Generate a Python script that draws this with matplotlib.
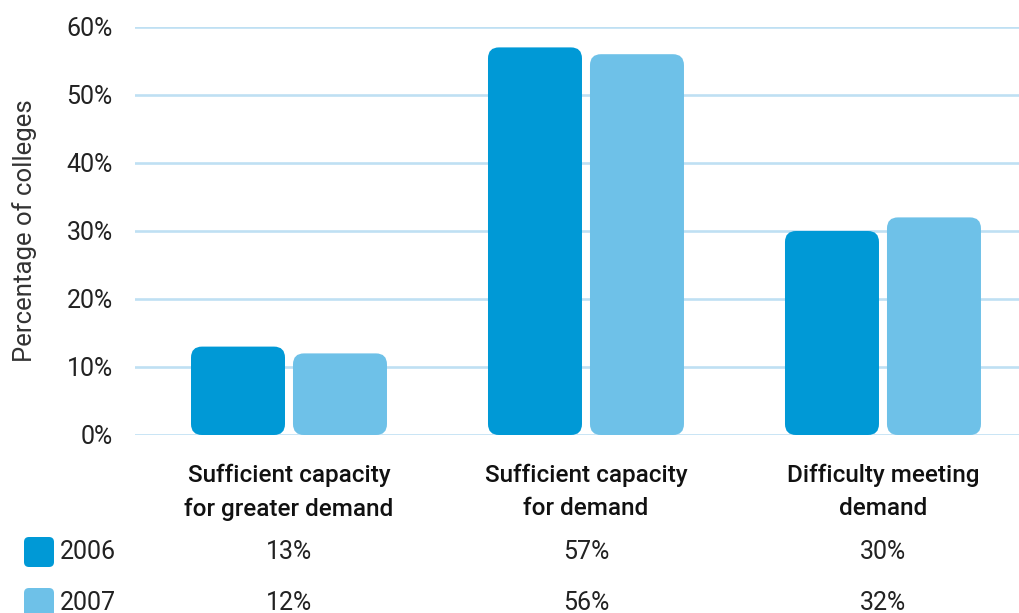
import matplotlib
matplotlib.use("Agg")
import matplotlib.pyplot as plt
from matplotlib.patches import FancyBboxPatch
import matplotlib.transforms as mtransforms

categories = ["Sufficient capacity\nfor greater demand",
              "Sufficient capacity\nfor demand",
              "Difficulty meeting\ndemand"]
series_names = ["2006", "2007"]
values_2006 = [13, 57, 30]
values_2007 = [12, 56, 32]
y_ticks = [0, 10, 20, 30, 40, 50, 60]
y_label = "Percentage of colleges"

colors = ["#0099D6", "#6EC1E8"]
grid_color = "#BFE0F3"
text_color = "#222222"

plt.rcParams['font.family'] = ['Roboto', 'DejaVu Sans']

W, H = 1019, 613
fig = plt.figure(figsize=(W / 100, H / 100), dpi=100)
ax = fig.add_axes([135 / W, (H - 435) / H, (W - 135) / W, 408 / H])
ax.set_xlim(-0.5185, 2.458)
ax.set_ylim(0, 60)

for s in ax.spines.values():
    s.set_visible(False)
ax.set_yticks(y_ticks)
ax.set_yticklabels([f"{t}%" for t in y_ticks], fontsize=18, color=text_color)
ax.tick_params(axis='y', length=0, pad=16)
for t in y_ticks:
    ax.axhline(t, color=grid_color, lw=1.9, zorder=0)

x = list(range(len(categories)))
ax.set_xticks(x)
ax.set_xticklabels(categories, fontsize=17.5, fontweight='medium', color="#111111",
                   linespacing=1.55)
ax.tick_params(axis='x', length=0, pad=21)

ax.set_ylabel(y_label, fontsize=18.5, color="#333333")
ax.yaxis.set_label_coords(-98 / (W - 135), 0.5)

bw = 0.3165
off = 0.1717
bars = []
for vals, sign, col in [(values_2006, -1, colors[0]), (values_2007, 1, colors[1])]:
    bc = ax.bar([xi + sign * off for xi in x], vals, width=bw, color=col, alpha=0)
    bars.append((bc, col))

fig.canvas.draw()
p0 = ax.transData.transform((0, 0))
p1 = ax.transData.transform((1, 1))
px_x = p1[0] - p0[0]
px_y = p1[1] - p0[1]
r_px = 11
r_x = r_px / px_x
aspect = px_x / px_y
for bc, col in bars:
    for p in bc.patches:
        fb = FancyBboxPatch((p.get_x(), p.get_y()), p.get_width(), p.get_height(),
                            boxstyle=f"round,pad=0,rounding_size={r_x}",
                            mutation_aspect=aspect, facecolor=col,
                            edgecolor='none', zorder=2)
        ax.add_patch(fb)

trans = mtransforms.blended_transform_factory(ax.transData, fig.transFigure)
rows = [(series_names[0], values_2006, colors[0], 552),
        (series_names[1], values_2007, colors[1], 603)]
for name, vals, col, ypix in rows:
    yf = (H - ypix) / H
    sw = FancyBboxPatch((0.24, (H - ypix - 15) / 100), 0.30, 0.30,
                        boxstyle="round,pad=0,rounding_size=0.05",
                        transform=fig.dpi_scale_trans, facecolor=col,
                        edgecolor='none')
    fig.add_artist(sw)
    fig.text(60 / W, yf, name, fontsize=18, color=text_color, ha='left',
             va='center')
    for xi, v in zip(x, vals):
        ax.text(xi, yf, f"{v}%", transform=trans, fontsize=18, color=text_color,
                ha='center', va='center')

fig.savefig("out.png", dpi=100)
